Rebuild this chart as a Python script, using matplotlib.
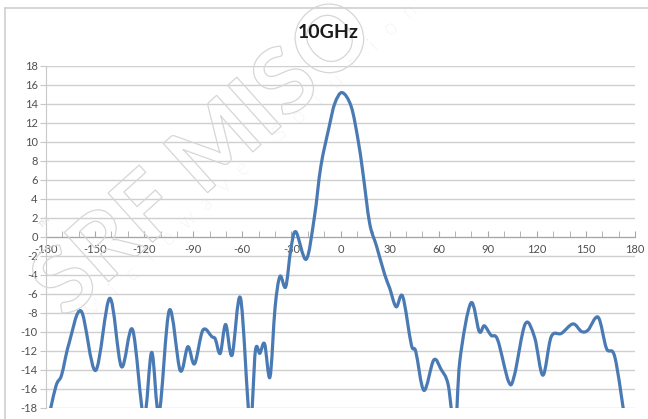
import numpy as np
import matplotlib
matplotlib.use('Agg')
import matplotlib.pyplot as plt
import matplotlib.patheffects as pe
from matplotlib.path import Path
from matplotlib.patches import PathPatch
from matplotlib.lines import Line2D

# measured pattern, angle (deg) vs gain (dB)
angle = [-180, -174, -170.5, -166, -158.5, -149.7, -141, -133.9, -127.1, -120.2,
         -115.4, -110.9, -104.6, -98, -93.3, -89.2, -84.1, -78.6, -76.5, -73.5,
         -70.2, -66.3, -61.1, -55.4, -52, -49.3, -46.4, -43.1, -40, -37,
         -33.5, -30.4, -27.3, -21, -16, -12, -7, -3.5, 1, 6.5,
         10.7, 13.7, 17.8, 22, 27, 30, 34, 38, 43.3, 46,
         51, 57, 61.5, 65.8, 70, 73, 79.7, 84.8, 87.9, 92,
         96.1, 102.8, 106.3, 112.9, 118.6, 123.7, 128.8, 135, 142.1, 147.3,
         151.3, 157.5, 162.6, 167.7, 174]
gain = [-20.3, -15.8, -14.6, -11.3, -7.85, -14.1, -6.5, -13.7, -9.8, -19.0,
        -12.2, -18.6, -7.75, -14.1, -11.6, -13.4, -9.85, -10.55, -10.8, -12.3,
        -9.26, -12.5, -6.5, -19.5, -12.0, -12.3, -11.3, -14.8, -7.5, -4.2,
        -5.3, -1.4, 0.5, -2.4, 2.0, 7.4, 11.5, 14.0, 15.15, 13.7,
        10.2, 6.7, 1.4, -1.0, -4.0, -5.4, -7.4, -6.3, -11.4, -12.1,
        -16.2, -13.0, -14.0, -15.6, -20.5, -13.0, -7.0, -10.0, -9.4, -10.4,
        -10.9, -15.3, -14.6, -9.2, -10.6, -14.6, -10.55, -10.2, -9.2, -10.0,
        -9.85, -8.5, -11.8, -12.7, -19.5]

xticks = list(range(-180, 181, 30))
yticks = list(range(-18, 19, 2))


def smooth_path(xs, ys):
    # Catmull-Rom segments written as cubic Bezier curves (like Excel's smoothed line)
    pts = np.column_stack([xs, ys]).astype(float)
    verts = [pts[0]]
    codes = [Path.MOVETO]
    n = len(pts)
    for i in range(n - 1):
        p0 = pts[max(i - 1, 0)]
        p1 = pts[i]
        p2 = pts[i + 1]
        p3 = pts[min(i + 2, n - 1)]
        c1 = p1 + (p2 - p0) / 6.0
        c2 = p2 - (p3 - p1) / 6.0
        verts += [c1, c2, p2]
        codes += [Path.CURVE4] * 3
    return Path(verts, codes)


plt.rcParams['font.family'] = ['Lato', 'DejaVu Sans']
plt.rcParams['axes.unicode_minus'] = False

fig = plt.figure(figsize=(6.48, 4.19), dpi=100)
ax = fig.add_axes([46/648, 1 - 407.5/419, (635 - 46)/648, (407.5 - 65.5)/419])

ax.set_xlim(-180, 180)
ax.set_ylim(-18, 18)

line = PathPatch(smooth_path(angle, gain), facecolor='none', edgecolor='#4a7ab4',
                 lw=2.3, capstyle='round', joinstyle='round', zorder=3)
ax.add_patch(line)

ax.set_yticks(yticks)
ax.set_xticks(xticks)
ax.set_xticks(range(-180, 181, 10), minor=True)
ax.yaxis.grid(True, color='#cfcfcf', lw=1.0)
ax.set_axisbelow(True)

for s in ['top', 'right']:
    ax.spines[s].set_visible(False)
ax.spines['bottom'].set_position(('data', 0))
ax.spines['bottom'].set_color('#a6a6a6')
ax.spines['left'].set_color('#c8c8c8')
ax.spines['bottom'].set_zorder(2)

ax.tick_params(axis='x', which='both', direction='in', length=4, color='#a6a6a6',
               labelsize=8, labelcolor='#505050', pad=5.5)
ax.tick_params(axis='y', direction='out', length=4, color='#c8c8c8',
               labelsize=8, labelcolor='#505050', pad=2)

fig.text(328/648, 1 - 33/419, '10GHz', ha='center', va='center',
         fontsize=14, fontweight='bold', color='#1a1a1a')

# chart area border
fig.add_artist(Line2D([5/648, 5/648], [0, 1 - 8/419], color='#d0d0d0', lw=1.2))
fig.add_artist(Line2D([5/648, 1], [1 - 8/419, 1 - 8/419], color='#d0d0d0', lw=1.2))

# faint watermark (hollow letters)
fig.text(205/648, 1 - 160/419, 'SRF MISO', rotation=42, ha='center', va='center',
         fontsize=66, fontweight='bold', color=(1, 1, 1, 0), zorder=1,
         path_effects=[pe.withStroke(linewidth=0.9, foreground='#d6d6d6')])
brand = 'Microwave Solution'
for i, ch in enumerate(brand):
    if ch == ' ':
        continue
    px = 280 + (i - 10) * 18.5
    py = 133 - (i - 10) * 17.5
    fig.text(px/648, 1 - py/419, ch, rotation=43, ha='center', va='center',
             fontsize=15, fontweight='light', color='#dcdcdc', zorder=1)
fig.text(45/648, 1 - 222/419, 'TM', rotation=43, ha='center', va='center',
         fontsize=6, color='#dedede', zorder=1)

fig.savefig('out.png', dpi=100)
